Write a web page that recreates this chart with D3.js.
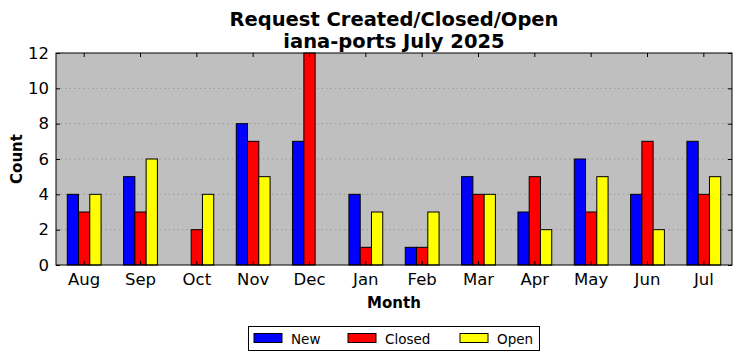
<!DOCTYPE html>
<html><head><meta charset="utf-8">
<script src="https://cdn.jsdelivr.net/npm/d3@7"></script>
<style>body{margin:0;background:#fff;font-family:"DejaVu Sans",sans-serif;}</style>
</head><body>
<svg id="c" width="741" height="361"></svg>
<script>
const months = ["Aug","Sep","Oct","Nov","Dec","Jan","Feb","Mar","Apr","May","Jun","Jul"];
const newVals = [4,5,0,8,7,4,1,5,3,6,4,7];
const closedVals = [3,3,2,7,12,1,1,4,5,3,7,4];
const openVals = [4,6,4,5,0,3,3,4,2,5,2,5];
const seriesNames = ["New","Closed","Open"];
const seriesColors = ["#0000ff","#ff0000","#ffff00"];
const yTicks = [0,2,4,6,8,10,12];

const svg = d3.select("#c");
const L=56, R=732, T=53, B=265;
const x = d3.scaleBand().domain(months).range([L,R]).paddingInner(0).paddingOuter(0);
const y = d3.scaleLinear().domain([0,12]).range([B,T]);
const bw = x.bandwidth()*0.2;

svg.append("rect").attr("x",L).attr("y",T).attr("width",R-L).attr("height",B-T).attr("fill","#bfbfbf");

// grid
svg.append("g").selectAll("line").data(yTicks.slice(1,-1)).join("line")
  .attr("x1",L).attr("x2",R).attr("y1",d=>y(d)).attr("y2",d=>y(d))
  .attr("stroke","#808080").attr("stroke-width",0.6).attr("stroke-dasharray","1.5,3");

const series = [newVals, closedVals, openVals];
series.forEach((vals,si)=>{
  svg.append("g").selectAll("rect").data(vals).join("rect")
    .attr("x",(d,i)=>x(months[i])+x.bandwidth()/2 + (si-1.5)*bw)
    .attr("y",d=>y(d)).attr("width",bw).attr("height",d=>B-y(d))
    .attr("fill",seriesColors[si]).attr("stroke","#000").attr("stroke-width",1);
});

// frame
svg.append("rect").attr("x",L).attr("y",T).attr("width",R-L).attr("height",B-T)
  .attr("fill","none").attr("stroke","#000").attr("stroke-width",1);

// axes
const xAxis = d3.axisBottom(x).tickSizeInner(-4).tickSizeOuter(0).tickPadding(8);
const gx = svg.append("g").attr("transform",`translate(0,${B})`).call(xAxis);
gx.select(".domain").remove();
gx.selectAll("text").attr("font-size",16.5).attr("font-family","DejaVu Sans").attr("fill","#000");
const xTop = d3.axisTop(x).tickSizeInner(-4).tickSizeOuter(0).tickFormat("");
const gxt = svg.append("g").attr("transform",`translate(0,${T})`).call(xTop);
gxt.select(".domain").remove();

const yAxis = d3.axisLeft(y).tickValues(yTicks).tickSizeInner(-4).tickSizeOuter(0).tickPadding(7);
const gy = svg.append("g").attr("transform",`translate(${L},0)`).call(yAxis);
gy.select(".domain").remove();
gy.selectAll("text").attr("font-size",16.5).attr("font-family","DejaVu Sans").attr("fill","#000");
const yR = d3.axisRight(y).tickValues(yTicks).tickSizeInner(-4).tickSizeOuter(0).tickFormat("");
const gyr = svg.append("g").attr("transform",`translate(${R},0)`).call(yR);
gyr.select(".domain").remove();

// titles
svg.append("text").attr("x",394).attr("y",26).attr("text-anchor","middle")
  .attr("font-size",19.5).attr("font-weight","bold").text("Request Created/Closed/Open");
svg.append("text").attr("x",394).attr("y",47.5).attr("text-anchor","middle")
  .attr("font-size",19.5).attr("font-weight","bold").text("iana-ports July 2025");
svg.append("text").attr("x",394).attr("y",308).attr("text-anchor","middle")
  .attr("font-size",15).attr("font-weight","bold").text("Month");
svg.append("text").attr("transform","translate(22,159) rotate(-90)").attr("text-anchor","middle")
  .attr("font-size",15).attr("font-weight","bold").text("Count");

// legend
const lg = svg.append("g");
lg.append("rect").attr("x",248.5).attr("y",326.5).attr("width",291).attr("height",24)
  .attr("fill","#fff").attr("stroke","#000");
const lx = [254,348,460];
seriesNames.forEach((n,i)=>{
  lg.append("rect").attr("x",lx[i]).attr("y",333.5).attr("width",28).attr("height",9)
    .attr("fill",seriesColors[i]).attr("stroke","#000");
  lg.append("text").attr("x",lx[i]+37).attr("y",343.5).attr("font-size",13.5).text(n);
});
</script>
</body></html>
